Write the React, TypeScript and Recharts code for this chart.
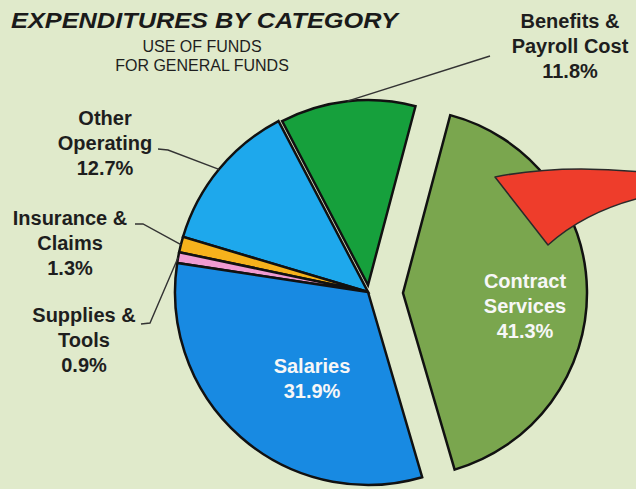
import React from 'react';
import { PieChart, Pie, Cell } from 'recharts';

// ---- data ----
const categories = [
  'Contract Services',
  'Benefits & Payroll Cost',
  'Other Operating',
  'Insurance & Claims',
  'Supplies & Tools',
  'Salaries',
];
const shares = [41.3, 11.8, 12.7, 1.3, 0.9, 31.9];
const sliceColors = ['#7aa64e', '#16a03c', '#1ea8ec', '#f6b21c', '#f09bd2', '#188ae2'];

const titleText = 'EXPENDITURES BY CATEGORY';
const subtitleLines = ['USE OF FUNDS', 'FOR GENERAL FUNDS'];

const data = categories.map((name, i) => ({ name, value: shares[i] }));

// ---- layout / style ----
const W = 636;
const H = 489;
const START = -73.7;
const END = START + 360;
const FONT = '"Liberation Sans", Arial, Helvetica, sans-serif';
const BG = '#e0eacb';

const groups = [
  { members: ['Salaries', 'Other Operating', 'Insurance & Claims', 'Supplies & Tools'], cx: 368, cy: 292, r: 193 },
  { members: ['Benefits & Payroll Cost'], cx: 368, cy: 285, r: 185 },
  { members: ['Contract Services'], cx: 403, cy: 293, r: 184 },
];

type LabelCfg = { lines: string[]; x: number; y: number; inside?: boolean; lead?: number[][] };
const labelLayout: Record<string, LabelCfg> = {
  'Contract Services': { lines: ['Contract', 'Services'], x: 525, y: 288, inside: true },
  Salaries: { lines: ['Salaries'], x: 312, y: 373, inside: true },
  'Benefits & Payroll Cost': { lines: ['Benefits &', 'Payroll Cost'], x: 570, y: 28, lead: [[490, 56]] },
  'Other Operating': { lines: ['Other', 'Operating'], x: 105, y: 125, lead: [[158, 149], [168, 150]] },
  'Insurance & Claims': { lines: ['Insurance &', 'Claims'], x: 70, y: 225, lead: [[135, 224], [143, 224]] },
  'Supplies & Tools': { lines: ['Supplies &', 'Tools'], x: 84, y: 322, lead: [[141, 324], [150, 323]] },
};

const RAD = Math.PI / 180;
const LINE_H = 25;

function makeLabel(members: string[]) {
  return (props: any) => {
    const name: string = props?.payload?.name ?? props?.name;
    if (!members.includes(name)) return null;
    const cfg = labelLayout[name];
    if (!cfg) return null;
    const value: number = props?.payload?.value ?? props?.value;
    const lines = [...cfg.lines, `${value.toFixed(1)}%`];
    const color = cfg.inside ? '#f7f7f7' : '#1e1e1e';
    let lead: React.ReactNode = null;
    if (cfg.lead) {
      const ax = props.cx + props.outerRadius * Math.cos(-props.midAngle * RAD);
      const ay = props.cy + props.outerRadius * Math.sin(-props.midAngle * RAD);
      const pts = [...cfg.lead, [ax, ay]].map((p) => p.join(',')).join(' ');
      lead = <polyline points={pts} fill="none" stroke="#333" strokeWidth={1.4} />;
    }
    return (
      <g key={`lbl-${name}`}>
        {lead}
        <text
          x={cfg.x}
          y={cfg.y}
          textAnchor="middle"
          fill={color}
          fontFamily={FONT}
          fontWeight="bold"
          fontSize={20}
        >
          {lines.map((ln, i) => (
            <tspan key={i} x={cfg.x} y={cfg.y + i * LINE_H}>
              {ln}
            </tspan>
          ))}
        </text>
      </g>
    );
  };
}

export default function App() {
  return (
    <div style={{ position: 'absolute', left: 0, top: 0, width: W, height: H, background: BG, overflow: 'hidden' }}>
      <PieChart width={W} height={H} margin={{ top: 0, right: 0, bottom: 0, left: 0 }}>
        {groups.map((g, gi) => (
          <Pie
            key={gi}
            data={data}
            dataKey="value"
            nameKey="name"
            cx={g.cx}
            cy={g.cy}
            outerRadius={g.r}
            innerRadius={0}
            startAngle={START}
            endAngle={END}
            isAnimationActive={false}
            labelLine={false}
            label={makeLabel(g.members)}
          >
            {data.map((d, i) => {
              const on = g.members.includes(d.name);
              return (
                <Cell
                  key={d.name}
                  fill={on ? sliceColors[i] : 'transparent'}
                  stroke={on ? '#111' : 'none'}
                  strokeWidth={on ? 2.5 : 0}
                />
              );
            })}
          </Pie>
        ))}
      </PieChart>
      <svg
        width={W}
        height={H}
        style={{ position: 'absolute', left: 0, top: 0, pointerEvents: 'none' }}
      >
        <text
          x={11}
          y={28}
          fontFamily={FONT}
          fontWeight="bold"
          fontStyle="italic"
          fontSize={21.5}
          fill="#1a1a1a"
          textLength={387}
          lengthAdjust="spacingAndGlyphs"
        >
          {titleText}
        </text>
        {subtitleLines.map((s, i) => (
          <text
            key={s}
            x={202}
            y={52 + i * 19}
            textAnchor="middle"
            fontFamily={FONT}
            fontSize={16}
            fill="#1e1e1e"
          >
            {s}
          </text>
        ))}
        <path
          d="M495,177 Q560,164 640,172 L640,198 Q585,212 548,245 Z"
          fill="#ee3d2b"
          stroke="#2a2a2a"
          strokeWidth={1.5}
          strokeLinejoin="round"
        />
      </svg>
    </div>
  );
}
